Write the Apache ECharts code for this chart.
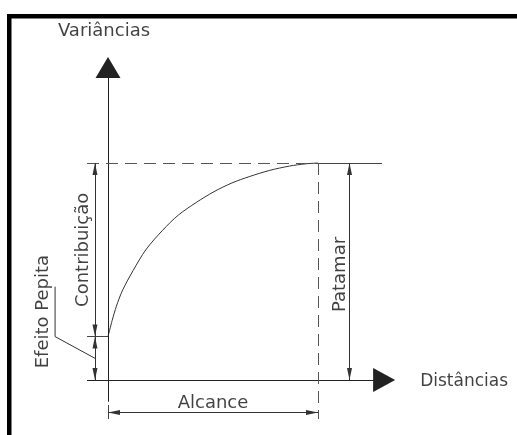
<!DOCTYPE html>
<html lang="pt">
<head>
    <meta charset="UTF-8">
    <title>Variograma</title>
    <script src="https://cdn.jsdelivr.net/npm/echarts@6/dist/echarts.min.js"></script>
    <style>
        html, body { margin: 0; padding: 0; background: #fff; }
    </style>
</head>
<body>
<div id="main" style="width: 517px;height: 435px;"></div>

<script type="text/javascript">
    // curva do variograma
    var distances = [0, 2, 4, 7, 12, 18, 26, 33.5, 42, 50.5, 59, 67.5, 77, 86.5, 94, 100];
    var variances = [20, 27.5, 34, 41.5, 50.5, 60, 69, 76, 81.8, 86.8, 90.8, 93.8, 96.6, 98.6, 99.6, 100];
    var nugget = 20;   // efeito pepita
    var sill = 100;    // patamar
    var range = 100;   // alcance

    // posicoes das cotas (unidades dos eixos)
    var axisX = [-10, 131.5], axisY = [-10, 144];
    var dimLeftX = -6.2, patamarX = 115, alcanceY = -15, extBottom = -18;
    var leaderX = -25.2, leaderTop = 43, sillEnd = 130.5;

    var myChart = echarts.init(document.getElementById('main'));

    var ink = '#333';
    var font = {fontFamily: 'DejaVu Sans', fontSize: 18, color: '#111'};
    var dimArrow = {
        symbol: ['triangle', 'triangle'],
        symbolSize: [5, 12],
        symbolOffset: [[0, 6], [0, 6]]
    };

    function seg(a, b) {
        return [{coord: a}, {coord: b}];
    }

    var curve = distances.map(function (d, i) { return [d, variances[i]]; });

    var option = {
        animation: false,
        grid: {left: 24, right: 115, top: 54.5, bottom: 0.75},
        xAxis: {type: 'value', min: -40, max: 140, show: false},
        yAxis: {type: 'value', min: -25, max: 150, show: false},
        graphic: [ // moldura
            {type: 'rect', shape: {x: 7, y: 14, width: 510, height: 4.5}, style: {fill: '#000'}},
            {type: 'rect', shape: {x: 7, y: 14, width: 4.5, height: 421}, style: {fill: '#000'}}
        ],
        series: [
            {   // variograma
                type: 'line',
                data: curve,
                smooth: 0.3,
                showSymbol: false,
                clip: false,
                lineStyle: {color: ink, width: 1}
            },
            {   // eixos com setas
                type: 'line',
                data: [],
                markLine: {
                    silent: true,
                    symbol: ['none', 'triangle'],
                    label: {show: false},
                    lineStyle: {color: '#222', width: 1, type: 'solid'},
                    data: [
                        [{coord: [axisX[0], 0], symbolSize: 1}, {coord: [axisX[1], 0], symbolSize: [24, 22]}],
                        [{coord: [0, axisY[0]], symbolSize: 1}, {coord: [0, axisY[1]], symbolSize: [25, 21]}]
                    ]
                }
            },
            {   // linhas tracejadas
                type: 'line',
                data: [],
                markLine: {
                    silent: true,
                    symbol: ['none', 'none'],
                    label: {show: false},
                    lineStyle: {color: '#555', width: 1, type: [12, 7]},
                    data: [
                        seg([axisX[0], sill], [range, sill]),
                        seg([range, sill], [range, extBottom])
                    ]
                }
            },
            {   // linhas de chamada
                type: 'line',
                data: [],
                markLine: {
                    silent: true,
                    symbol: ['none', 'none'],
                    label: {show: false},
                    lineStyle: {color: '#444', width: 1, type: 'solid'},
                    data: [
                        seg([range, sill], [sillEnd, sill]),
                        seg([axisX[0], nugget], [0, nugget]),
                        seg([0, -11.5], [0, extBottom])
                    ]
                }
            },
            {   // cotas
                type: 'line',
                data: [],
                markLine: Object.assign({
                    silent: true,
                    label: {show: false},
                    lineStyle: {color: ink, width: 1, type: 'solid'},
                    itemStyle: {color: '#000'},
                    data: [
                        seg([dimLeftX, nugget], [dimLeftX, sill]),
                        seg([dimLeftX, 0], [dimLeftX, nugget]),
                        seg([patamarX, 0], [patamarX, sill]),
                        seg([0, alcanceY], [range, alcanceY])
                    ]
                }, dimArrow)
            },
            {   // chamada do efeito pepita
                type: 'line',
                data: [[leaderX, leaderTop], [leaderX, nugget], [dimLeftX, nugget / 2]],
                showSymbol: false,
                clip: false,
                lineStyle: {color: ink, width: 1}
            },
            {   // textos
                type: 'scatter',
                symbolSize: 0,
                clip: false,
                label: Object.assign({
                    show: true,
                    position: 'inside',
                    formatter: '{b}'
                }, font),
                data: [
                    {name: 'Variâncias', value: [0, axisY[1]], label: {offset: [-4, -36]}},
                    {name: 'Distâncias', value: [axisX[1], 0], label: {align: 'left', offset: [36, 2], fontSize: 17}},
                    {name: 'Alcance', value: [range / 2, alcanceY], label: {offset: [0, -9]}},
                    {name: 'Contribuição', value: [dimLeftX, (nugget + sill) / 2], label: {rotate: 90, offset: [0, -12]}},
                    {name: 'Patamar', value: [patamarX, sill / 2], label: {rotate: 90, offset: [-3, -9]}},
                    {name: 'Efeito Pepita', value: [leaderX, (leaderTop + nugget) / 2], label: {rotate: 90, offset: [0, -12]}}
                ]
            }
        ]
    };

    myChart.setOption(option);
</script>
</body>
</html>
